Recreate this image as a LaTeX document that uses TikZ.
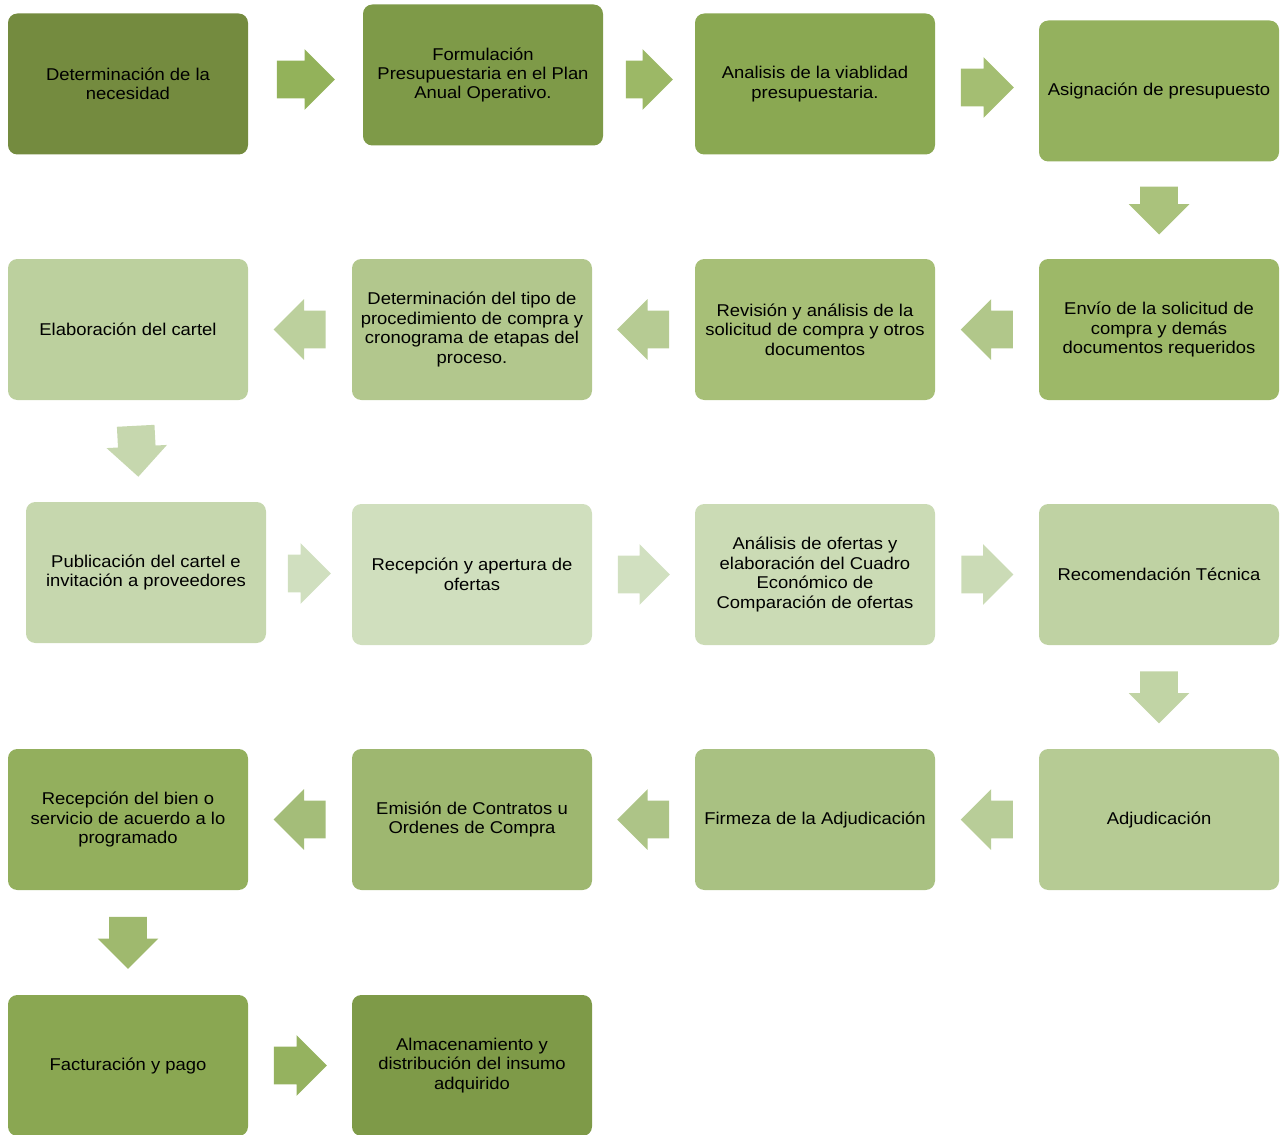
\documentclass[tikz,border=0pt]{standalone}
\usepackage{fontspec}
\setmainfont{Liberation Sans}[FakeStretch=1.08]
\usetikzlibrary{shapes.arrows,calc}

\begin{document}
\begin{tikzpicture}
[x=0.75pt,y=-0.75pt,
  stepDecorate/.style={rounded corners=7pt,minimum width=180pt,minimum height=105.75pt,%
    inner sep=0pt,align=center,font=\fontsize{12.8}{14.6}\selectfont},%
  arrowDecorate/.style={single arrow,single arrow head extend=8.6pt,inner xsep=0pt,inner ysep=13.9pt,anchor=tail}]
\useasboundingbox (0,0) rectangle (1280,1134);
%% steps of the process
\foreach \nodename/\x/\y/\hex/\steptext in {
  b1/128/84/748B3F/Determinación de la\\necesidad,
  b2/483/75/7E9A48/Formulación\\Presupuestaria  en el Plan\\Anual Operativo.,
  b3/815/84/8AA852/Analisis de la viablidad\\presupuestaria.,
  b4/1159/91/94B15E/Asignación de presupuesto,
  b5/1159/329.5/9DB868/Envío de la solicitud de\\compra y demás\\documentos requeridos,
  b6/815/329.5/A7BF77/Revisión  y análisis de la\\solicitud de compra y otros\\documentos,
  b7/472/329.5/B2C78D/Determinación del tipo de\\procedimiento de compra y\\cronograma de etapas del\\proceso.,
  b8/128/329.5/BCD09E/Elaboración del cartel,
  b9/146/572.5/C6D7AE/Publicación del cartel e\\invitación a proveedores,
  b10/472/574.5/D0DFBE/Recepción y apertura de\\ofertas,
  b11/815/574.5/CBDBB5/Análisis de ofertas  y\\elaboración del Cuadro\\Económico de\\Comparación de ofertas,
  b12/1159/574.5/BFD2A3/Recomendación Técnica,
  b13/1159/819.5/B6CB94/Adjudicación,
  b14/815/819.5/A9C182/Firmeza de la Adjudicación,
  b15/472/819.5/9EB770/Emisión de Contratos u\\Ordenes de Compra,
  b16/128/819.5/93AF5D/Recepción del bien o\\servicio de acuerdo a lo\\programado,
  b17/128/1065.5/8AA752/Facturación y pago,
  b18/472/1065.5/7E9A48/Almacenamiento y\\distribución  del insumo\\adquirido}
{
  \definecolor{stepFill}{HTML}{\hex}
  \node (\nodename) at (\x,\y) [stepDecorate,fill=stepFill] {\steptext};
}
%% block arrows between steps
\foreach \startnode/\endnode/\turn/\len/\hex in {
  b1/b2/0/58/93B25A, b2/b3/0/47/9CB866, b3/b4/0/53/A4BE72, b4/b5/-90/48/AAC27C,
  b5/b6/180/52/B1C78A, b6/b7/180/52/B6CB93, b7/b8/180/52/BCD09D, b8/b9/-87/51/C6D7AE,
  b9/b10/0/43/D0DFBF, b10/b11/0/52/D1E0C0, b11/b12/0/52/CBDBB6, b12/b13/-90/52/C1D4A5,
  b13/b14/180/52/B8CD98, b14/b15/180/52/ADC487, b15/b16/180/52/A4BD79, b16/b17/-90/52/9FB96E,
  b17/b18/0/53/95B25F}
{
  \definecolor{arrowFill}{HTML}{\hex}
  \node (a-\startnode) at ($(\startnode)!0.5!(\endnode)+(180-\turn:\len/2)$)
    [arrowDecorate,minimum height=\len*0.75pt,rotate=\turn,fill=arrowFill] {};
}
\end{tikzpicture}
\end{document}
